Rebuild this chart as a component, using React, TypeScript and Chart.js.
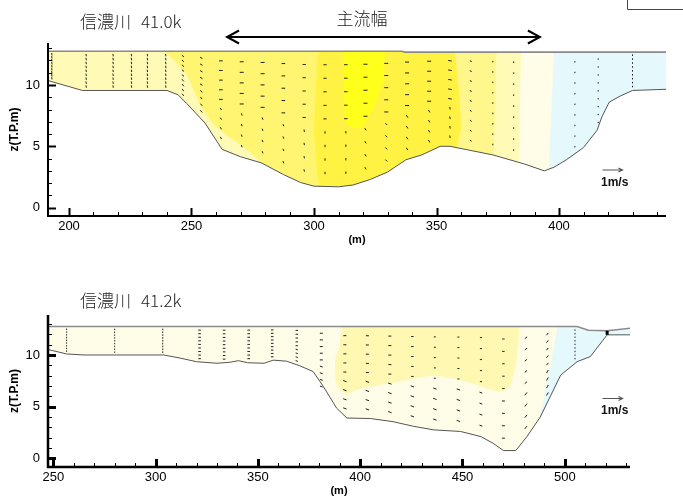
import React, { useEffect, useRef } from 'react';
import { Chart, registerables } from 'chart.js';

Chart.register(...registerables);
Chart.defaults.font.family = "'Liberation Sans', Arial, sans-serif";

type Pt = [number, number];

// ================= common =================
const riverName = '信濃川';
const zMajor = [0, 5, 10];
const zMinor = [1, 2, 3, 4, 6, 7, 8, 9, 11, 12, 13];
const sigmaLayers = 10;

// ================= 信濃川 41.0k =================
const section410 = '41.0k';
const xLimits410: Pt = [191.43, 443.67];
const zLimits410: Pt = [-0.68, 13.42];
const xMajor410 = [200, 250, 300, 350, 400];
const xMinor410 = [210, 220, 230, 240, 260, 270, 280, 290, 310, 320, 330, 340, 360, 370, 380, 390, 410, 420, 430, 440];
const mainFlow410: Pt = [264.5, 392.2];
const mainFlowLabelX410 = 319.6;

const bed410: Pt[] = [
  [190.7, 10.4], [205.5, 9.55], [240, 9.55], [244.5, 9.2], [248, 8.5], [255.5, 6.9], [262.5, 4.75],
  [270, 4.15], [278.5, 3.65], [287.5, 2.7], [294.5, 2.05], [300, 1.75], [310, 1.7], [316, 1.85],
  [323, 2.3], [330, 2.9], [337.5, 3.9], [344, 4.3], [351.5, 5.0], [355.5, 5.0], [373, 4.3],
  [386, 3.55], [394, 3.0], [398, 3.3], [403, 3.9], [410, 4.9], [415.5, 6.3], [417.5, 7.4],
  [420.5, 8.6], [425, 9.1], [430, 9.55], [444, 9.65],
];
const surface410: Pt[] = [[191, 12.75], [336, 12.75], [337, 12.68], [444.5, 12.68]];

// contour boundaries (velocity bands), each given top -> bottom
const paleEdge410: Pt[] = [[239, 14], [239, 12.75], [243, 12.0], [248, 10.9], [251, 9.5], [254.5, 8.0], [259, 6.8], [265, 5.8], [271, 5.0], [277, 4.0], [281, 3.0], [281, -2]];
const brightEdge410: Pt[] = [[301.5, 14], [301.5, 12.75], [300.5, 9], [300, 6], [301, 3.5], [302.5, 1], [302.5, -2]];
const core410: Pt[] = [[312, 14], [312, 12.75], [312.5, 7.0], [315, 6.6], [318, 6.45], [321, 6.9], [325, 8.5], [328.5, 10.5], [329, 12.75], [329, 14]];
const lightEdge410: Pt[] = [[357.5, 14], [357.5, 12.75], [359.5, 9], [360, 6.5], [358.5, 5], [357, 3], [357, -2]];
const paleRightEdge410: Pt[] = [[374.5, 14], [374.5, 12.75], [373.5, 5], [373, -2]];
const creamEdge410: Pt[] = [[384.5, 14], [384.5, 12.75], [383.5, 3], [383.5, -2]];
const blueEdge410: Pt[] = [[398, 14], [398, 12.75], [396, 4], [395, -2]];

// velocity vector columns (sigma grid)
const vecX410 = [193, 207, 218, 225.5, 232, 239.5, 246.5, 254, 262, 270.5, 279, 287.5, 296, 304.5, 313, 321, 329.5, 338, 347, 355.5, 364, 373, 381.5, 406.5, 416, 430];
const vecBed410 = [10.3, 9.55, 9.55, 9.55, 9.55, 9.55, 8.8, 7.3, 4.9, 4.15, 3.6, 2.7, 1.95, 1.72, 1.75, 2.15, 2.85, 3.9, 4.6, 5.0, 4.65, 4.3, 3.8, 4.1, 6.3, 9.55];
const vecAngUp410 = [80, 80, 80, 80, 80, 80, 40, 30, 0, 0, 0, 0, 0, 0, 0, 0, 0, 0, 0, 10, 20, 90, 90, 90, 90, 90];
const vecAngLow410 = [80, 80, 80, 80, 80, 80, 50, 50, 60, 70, 70, 70, 80, 90, 90, 60, 45, 60, 60, 80, 60, 90, 90, 90, 90, 90];
const vecLenUp410 = [1.2, 1.2, 1.2, 1.2, 1.2, 1.2, 1.4, 1.4, 1.8, 2, 2, 1.8, 1.6, 1.6, 1.8, 2, 2, 2, 2, 1.8, 1, 0.8, 0.8, 0.7, 0.7, 0.8];
const vecLenLow410 = [1.2, 1.2, 1.2, 1.2, 1.2, 1.2, 1.4, 1.4, 1.2, 1.2, 1.2, 1.2, 1.2, 1.2, 1.2, 1.3, 1.3, 1.4, 1.4, 1.3, 1, 0.8, 0.8, 0.7, 0.7, 0.8];

// ================= 信濃川 41.2k =================
const section412 = '41.2k';
const xLimits412: Pt = [247.41, 531.87];
const zLimits412: Pt = [-0.84, 13.87];
const xMajor412 = [250, 300, 350, 400, 450, 500];
const xMinor412 = [260, 270, 280, 290, 310, 320, 330, 340, 360, 370, 380, 390, 410, 420, 430, 440, 460, 470, 480, 490, 510, 520, 530];

const bed412: Pt[] = [
  [247, 10.55], [256.5, 10.1], [265, 10.0], [281, 10.0], [304, 10.0], [312, 9.7], [320, 9.35], [330, 9.2],
  [336.5, 9.3], [340.5, 9.45], [345, 9.25], [353, 9.2], [357.5, 9.5], [364, 9.4], [370.5, 8.95], [377, 8.4],
  [382, 6.95], [388.5, 4.85], [393.5, 3.9], [405, 3.85], [416, 3.55], [426, 3.1], [436, 2.75], [449, 2.6],
  [459, 2.1], [465, 1.45], [470, 0.75], [476, 0.75], [481.5, 2.1], [488, 4.0], [498, 8.05], [506, 9.35],
  [512.5, 9.85], [520.7, 11.95], [532.5, 11.95],
];
const surface412: Pt[] = [[247, 12.75], [506, 12.75], [511.5, 12.4], [520.7, 12.35], [532.5, 12.6]];
const yellowZone412: Pt[] = [
  [391, 14], [391, 12.75], [390, 11], [387.8, 9.6], [387.6, 8.2], [388.5, 7.1], [391, 6.5], [393.5, 6.2],
  [398, 6.6], [405, 6.95], [414.5, 7.25], [426, 7.7], [434, 8.0], [440, 7.9], [446, 7.7], [452, 7.4],
  [457, 7.1], [463, 6.7], [468, 6.45], [471.5, 6.6], [474, 7.3], [476.5, 9.5], [477.5, 11.5], [478, 12.75], [478, 14],
];
const blueEdge412: Pt[] = [[496.5, 14], [496.5, 12.75], [493, 9], [490, 6], [487, 3.5], [487, -2]];
const wall412: Pt[] = [[520.7, 11.95], [520.7, 12.35]];

const vecX412 = [256.5, 280, 303.5, 321.5, 333.5, 345.5, 357, 369, 381, 392.5, 403.5, 414.5, 425.5, 436.5, 448, 459, 470, 481, 491.5, 505];
const vecBed412 = [10.1, 10.0, 10.0, 9.3, 9.25, 9.3, 9.5, 9.05, 6.3, 3.95, 3.85, 3.55, 3.1, 2.75, 2.6, 2.1, 0.75, 1.9, 5.5, 9.3];
const vecAngUp412 = [90, 90, 90, 0, 0, 0, 0, 0, 0, 0, 0, 0, 0, 0, 0, 0, 0, -40, -50, 90];
const vecAngLow412 = [90, 90, 90, 0, 0, 0, 0, 20, 20, 20, 20, 20, 20, 20, 20, 20, 0, -50, -60, 90];
const vecLenUp412 = [0.7, 0.7, 0.8, 1.3, 1.3, 1.3, 1.3, 1.2, 1.5, 1.5, 1.5, 1.5, 1.2, 1, 1, 1, 1.2, 1.5, 1.5, 0.7];
const vecLenLow412 = [0.7, 0.7, 0.8, 1.3, 1.3, 1.3, 1.3, 1.2, 1.5, 1.8, 1.8, 1.8, 1.8, 1.8, 1.8, 1.5, 1.5, 1.8, 1.8, 0.7];

// ================= colours =================
const cPale = 'rgb(255,250,182)';
const cMedium = 'rgb(255,245,112)';
const cBright = 'rgb(255,242,66)';
const cCore = 'rgb(255,255,28)';
const cLight = 'rgb(255,247,140)';
const cCream = 'rgb(255,252,232)';
const cBlue = 'rgb(229,248,252)';
const cYellow412 = 'rgb(255,248,178)';

// ================= helpers =================
const toXY = (pts: Pt[]) => pts.map(([x, y]) => ({ x, y }));
const rightOf = (edge: Pt[], xMax: number): Pt[] => [
  ...edge,
  [xMax + 20, edge[edge.length - 1][1]],
  [xMax + 20, edge[0][1]],
];
const fullRect = (xl: Pt): Pt[] => [[xl[0] - 20, 20], [xl[1] + 20, 20], [xl[1] + 20, -5], [xl[0] - 20, -5]];
const belowBed = (bed: Pt[]): Pt[] => [...bed, [bed[bed.length - 1][0], -5], [bed[0][0], -5]];
const aboveSurface = (s: Pt[]): Pt[] => [...s, [s[s.length - 1][0], 20], [s[0][0], 20]];

function vectorPoints(xs: number[], beds: number[], surf: number, angUp: number[], angLow: number[], lenUp: number[], lenLow: number[]) {
  const pts: any[] = [];
  xs.forEach((x, i) => {
    for (let k = 1; k < sigmaLayers; k++) {
      const z = beds[i] + ((surf - beds[i]) * k) / sigmaLayers;
      const up = k >= 5;
      pts.push({ x, y: z, a: up ? angUp[i] : angLow[i], r: up ? lenUp[i] : lenLow[i] });
    }
  });
  return pts;
}

function band(pts: Pt[], color: string, order: number) {
  return {
    data: toXY(pts), showLine: true, fill: 'shape', backgroundColor: color,
    borderColor: 'rgba(0,0,0,0)', borderWidth: 0, pointRadius: 0, order,
  };
}

interface PanelDef {
  key: string; section: string; height: number; padTop: number; padRight: number; xAxisH: number;
  xl: Pt; zl: Pt; xMajor: number[]; xMinor: number[];
  bed: Pt[]; surface: Pt[]; bands: any[]; vectors: any[]; extra: any[];
  axisW: number; majorW: number; titleY: number; refY: number;
  mainFlow?: Pt; mainFlowLabelX?: number; cornerBox?: boolean;
}

const panel410: PanelDef = {
  key: 'p410', section: section410, height: 250, padTop: 43, padRight: 17, xAxisH: 34,
  xl: xLimits410, zl: zLimits410, xMajor: xMajor410, xMinor: xMinor410,
  bed: bed410, surface: surface410,
  bands: [
    band(fullRect(xLimits410), cPale, 20),
    band(rightOf(paleEdge410, xLimits410[1]), cMedium, 19),
    band(rightOf(brightEdge410, xLimits410[1]), cBright, 18),
    band(rightOf(lightEdge410, xLimits410[1]), cLight, 17),
    band(rightOf(paleRightEdge410, xLimits410[1]), cPale, 16),
    band(rightOf(creamEdge410, xLimits410[1]), cCream, 15),
    band(rightOf(blueEdge410, xLimits410[1]), cBlue, 14),
    band(core410, cCore, 13),
  ],
  vectors: vectorPoints(vecX410, vecBed410, 12.75, vecAngUp410, vecAngLow410, vecLenUp410, vecLenLow410),
  extra: [],
  axisW: 2, majorW: 2, titleY: 22, refY: 170,
  mainFlow: mainFlow410, mainFlowLabelX: mainFlowLabelX410, cornerBox: true,
};

const panel412: PanelDef = {
  key: 'p412', section: section412, height: 251, padTop: 65, padRight: 53, xAxisH: 34,
  xl: xLimits412, zl: zLimits412, xMajor: xMajor412, xMinor: xMinor412,
  bed: bed412, surface: surface412,
  bands: [
    band(fullRect(xLimits412), cCream, 20),
    band(yellowZone412, cYellow412, 19),
    band(rightOf(blueEdge412, xLimits412[1]), cBlue, 18),
  ],
  vectors: vectorPoints(vecX412, vecBed412, 12.75, vecAngUp412, vecAngLow412, vecLenUp412, vecLenLow412),
  extra: [{
    data: toXY(wall412), showLine: true, borderColor: '#000', borderWidth: 3, pointRadius: 0, fill: false, order: 0,
  }],
  axisW: 2.5, majorW: 3, titleY: 51, refY: 148.5,
};

function makeDecor(def: PanelDef) {
  return {
    id: 'decor_' + def.key,
    afterDraw(chart: any) {
      const { ctx, chartArea: a } = chart;
      const xs = chart.scales.x;
      const ys = chart.scales.y;
      ctx.save();
      ctx.strokeStyle = '#000';
      ctx.lineCap = 'butt';
      // axis lines
      ctx.lineWidth = def.axisW;
      ctx.beginPath();
      ctx.moveTo(a.left, a.top);
      ctx.lineTo(a.left, a.bottom);
      ctx.lineTo(a.right, a.bottom);
      ctx.stroke();
      // x ticks (inward)
      const xt = (v: number, len: number, w: number) => {
        const px = Math.round(xs.getPixelForValue(v)) + 0.5;
        ctx.lineWidth = w;
        ctx.beginPath(); ctx.moveTo(px, a.bottom); ctx.lineTo(px, a.bottom - len); ctx.stroke();
      };
      const yt = (v: number, len: number, w: number) => {
        const py = Math.round(ys.getPixelForValue(v)) + 0.5;
        ctx.lineWidth = w;
        ctx.beginPath(); ctx.moveTo(a.left, py); ctx.lineTo(a.left + len, py); ctx.stroke();
      };
      def.xMinor.forEach((v) => xt(v, 4, 1));
      def.xMajor.forEach((v) => xt(v, 8, def.majorW));
      zMinor.forEach((v) => yt(v, 4, 1));
      zMajor.forEach((v) => yt(v, 8, def.majorW));

      // panel title
      ctx.fillStyle = '#222';
      ctx.textBaseline = 'middle';
      ctx.textAlign = 'left';
      ctx.font = "300 17px 'Noto Sans CJK JP'";
      ctx.fillText(riverName, 80, def.titleY);
      ctx.fillText(def.section, 141, def.titleY);

      // 1 m/s reference vector
      ctx.strokeStyle = '#555';
      ctx.lineWidth = 1.2;
      ctx.beginPath();
      ctx.moveTo(602.5, def.refY); ctx.lineTo(622.5, def.refY);
      ctx.moveTo(618.5, def.refY - 2); ctx.lineTo(622.5, def.refY); ctx.lineTo(618.5, def.refY + 2);
      ctx.stroke();
      ctx.fillStyle = '#111';
      ctx.font = "bold 12px 'Liberation Sans', Arial, sans-serif";
      ctx.fillText('1m/s', 601, def.refY + 12.5);

      // main-flow width annotation
      if (def.mainFlow) {
        const x0 = xs.getPixelForValue(def.mainFlow[0]);
        const x1 = xs.getPixelForValue(def.mainFlow[1]);
        const y = 37;
        ctx.strokeStyle = '#000';
        ctx.lineWidth = 2;
        ctx.beginPath();
        ctx.moveTo(x0 + 1, y); ctx.lineTo(x1 - 1, y);
        ctx.moveTo(x0 + 12, y - 6.5); ctx.lineTo(x0, y); ctx.lineTo(x0 + 12, y + 6.5);
        ctx.moveTo(x1 - 12, y - 6.5); ctx.lineTo(x1, y); ctx.lineTo(x1 - 12, y + 6.5);
        ctx.stroke();
        ctx.fillStyle = '#222';
        ctx.textAlign = 'center';
        ctx.font = "300 17px 'Noto Sans CJK JP'";
        ctx.fillText('主流幅', xs.getPixelForValue(def.mainFlowLabelX), 19);
      }
      if (def.cornerBox) {
        ctx.strokeStyle = '#444';
        ctx.lineWidth = 1;
        ctx.beginPath();
        ctx.moveTo(627.5, 0); ctx.lineTo(627.5, 9.5); ctx.lineTo(683, 9.5);
        ctx.stroke();
      }
      ctx.restore();
    },
  };
}

function buildConfig(def: PanelDef): any {
  const datasets = [
    ...def.extra,
    {
      data: def.vectors, showLine: false, pointStyle: 'line',
      pointRadius: (c: any) => (c.raw ? c.raw.r : 1),
      pointRotation: (c: any) => (c.raw ? c.raw.a : 0),
      pointBorderColor: '#222', pointBorderWidth: 1, pointBackgroundColor: '#222', order: 1,
    },
    { data: toXY(def.bed), showLine: true, borderColor: '#555', borderWidth: 1, pointRadius: 0, fill: false, order: 2 },
    { data: toXY(def.surface), showLine: true, borderColor: '#8a8a8a', borderWidth: 1.6, pointRadius: 0, fill: false, order: 3 },
    band(belowBed(def.bed), '#ffffff', 4),
    band(aboveSurface(def.surface), '#ffffff', 5),
    ...def.bands,
  ];
  return {
    type: 'scatter',
    data: { datasets },
    options: {
      animation: false,
      responsive: false,
      maintainAspectRatio: false,
      events: [],
      layout: { padding: { left: 0, right: def.padRight, top: def.padTop, bottom: 0 } },
      plugins: { legend: { display: false }, tooltip: { enabled: false } },
      scales: {
        x: {
          type: 'linear', position: 'bottom', min: def.xl[0], max: def.xl[1],
          grid: { display: false, drawTicks: false }, border: { display: false },
          ticks: { color: '#000', font: { size: 13 }, padding: 3, maxRotation: 0, autoSkip: false },
          afterBuildTicks: (s: any) => { s.ticks = def.xMajor.map((v) => ({ value: v })); },
          afterFit: (s: any) => { s.height = def.xAxisH; },
          title: { display: true, text: '(m)', color: '#000', font: { size: 11, weight: 'bold' }, padding: { top: 0, bottom: 3.4 } },
        },
        y: {
          type: 'linear', position: 'left', min: def.zl[0], max: def.zl[1],
          grid: { display: false, drawTicks: false }, border: { display: false },
          ticks: { color: '#000', font: { size: 13 }, padding: 8, autoSkip: false },
          afterBuildTicks: (s: any) => { s.ticks = zMajor.map((v) => ({ value: v })); },
          afterFit: (s: any) => { s.width = 48; },
          title: { display: true, text: 'z(T.P.m)', color: '#000', font: { size: 12, weight: 'bold' }, padding: { top: 7.4, bottom: 0 } },
        },
      },
    },
    plugins: [makeDecor(def)],
  };
}

function PanelChart({ def }: { def: PanelDef }) {
  const ref = useRef<HTMLCanvasElement>(null);
  useEffect(() => {
    const chart = new Chart(ref.current as HTMLCanvasElement, buildConfig(def));
    return () => chart.destroy();
  }, [def]);
  return (
    <canvas
      ref={ref}
      width={683}
      height={def.height}
      style={{ display: 'block', width: 683, height: def.height }}
    />
  );
}

export default function App() {
  return (
    <div style={{ position: 'fixed', left: 0, top: 0, width: 683, height: 501, background: '#fff' }}>
      <PanelChart def={panel410} />
      <PanelChart def={panel412} />
    </div>
  );
}
